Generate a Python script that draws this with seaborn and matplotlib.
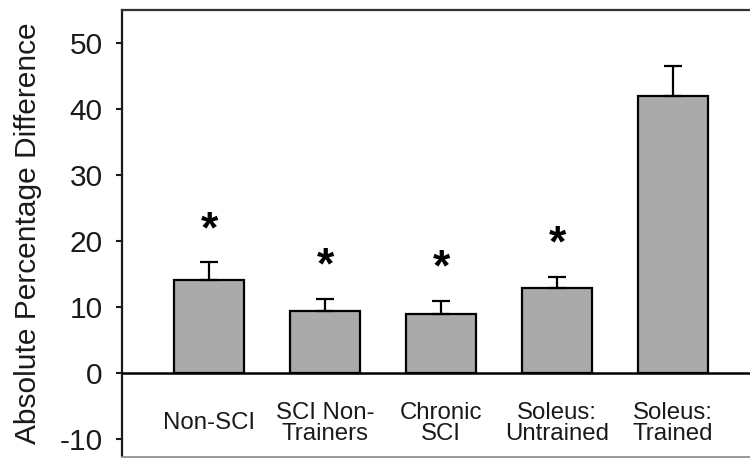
import numpy as np
import pandas as pd
import matplotlib
matplotlib.use("Agg")
import matplotlib.pyplot as plt
import seaborn as sns

# values
groups = ["Non-SCI", "SCI Non-\nTrainers", "Chronic\nSCI", "Soleus:\nUntrained", "Soleus:\nTrained"]
mean_diff = [14.1, 9.3, 8.9, 12.8, 41.9]
sem_diff = [2.6, 1.9, 2.0, 1.7, 4.6]
significant = [True, True, True, True, False]

sns.set_theme(style="white")
plt.rcParams["font.family"] = ["Liberation Sans", "DejaVu Sans"]
plt.rcParams["axes.unicode_minus"] = False

df = pd.DataFrame({"group": groups, "value": mean_diff, "sem": sem_diff})

fig = plt.figure(figsize=(7.5, 4.58), dpi=100)
ax = fig.add_axes([122 / 750, 1 - 456.5 / 458, 628 / 750, (456.5 - 9.5) / 458])

sns.barplot(data=df, x="group", y="value", color="#aaaaaa", edgecolor="black",
            linewidth=1.6, width=0.6, errorbar=None, saturation=1, ax=ax)

x = np.arange(len(groups))
# upper-only error bars
ax.errorbar(x, df["value"], yerr=[np.zeros(len(x)), df["sem"]], fmt="none",
            ecolor="black", elinewidth=1.6, capsize=6.5, capthick=1.6, zorder=3)

for xi, m, s, sig in zip(x, mean_diff, sem_diff, significant):
    if sig:
        ax.text(xi, m + s + 4.8, "*", ha="center", va="center", fontsize=32,
                fontweight="bold", color="black")

# group labels sit inside the plot below zero
for xi, lab in zip(x, groups):
    ax.text(xi, -7.7, lab, ha="center", va="center", fontsize=17.3, linespacing=0.95,
            color="#1a1a1a")

ax.axhline(0, color="black", lw=1.8, zorder=4)

ax.set_xlim(-0.75, 4.664)
ax.set_ylim(-12.7, 55)
ax.set_yticks(np.arange(-10, 51, 10))
ax.set_xticks([])
ax.set_xlabel("")
ax.set_ylabel("Absolute Percentage Difference", fontsize=21.5, color="#1a1a1a")
ax.yaxis.set_label_coords(-0.127, 0.5)
ax.tick_params(axis="y", left=True, direction="out", length=4, width=1.5,
               labelsize=21.5, pad=10, colors="#1a1a1a")

ax.spines["right"].set_visible(False)
ax.spines["left"].set_color("#1a1a1a")
ax.spines["left"].set_linewidth(1.6)
ax.spines["top"].set_color("#333333")
ax.spines["top"].set_linewidth(1.6)
ax.spines["bottom"].set_color("#888888")
ax.spines["bottom"].set_linewidth(1.2)

fig.savefig("out.png", dpi=100)
